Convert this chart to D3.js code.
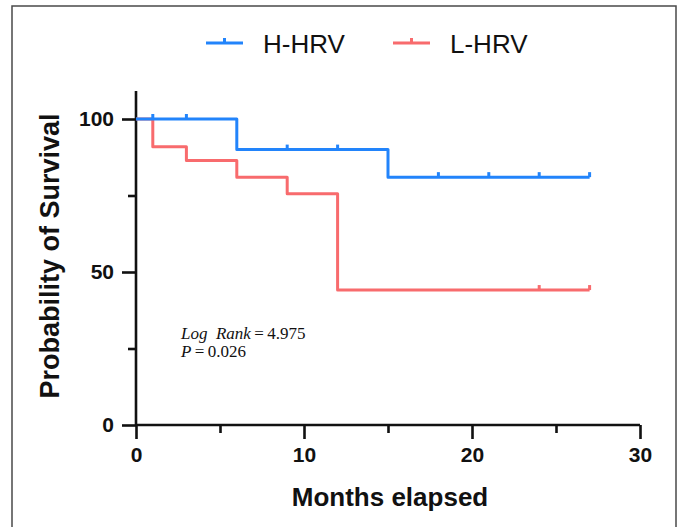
<!DOCTYPE html>
<html>
<head>
<meta charset="utf-8">
<script src="https://cdn.jsdelivr.net/npm/d3@7"></script>
<style>
  body { margin: 0; background: #fff; }
  svg { display: block; }
</style>
</head>
<body>
<div id="canvas"></div>
<script>
"use strict"

/* Data: Kaplan-Meier steps */
let groups = ["H-HRV", "L-HRV"];
let hTimes = [0, 6, 15, 27];
let hSurv = [100, 90, 81, 81];
let hCensor = [1, 3, 9, 12, 18, 21, 24, 27];
let lTimes = [0, 1, 3, 6, 9, 12, 27];
let lSurv = [100, 90.9, 86.4, 81, 75.6, 44.1, 44.1];
let lCensor = [24, 27];
let xMajor = [0, 10, 20, 30];
let xMinor = [5, 15, 25];
let yMajor = [0, 50, 100];
let yMinor = [25, 75];

/* Drawing config */
let svgWidth = 680;
let svgHeight = 527;
let colors = { "H-HRV": "#2284fb", "L-HRV": "#f86b6d" };

let svg = d3.select("#canvas")
    .append("svg")
    .attr("width", svgWidth)
    .attr("height", svgHeight);

// outer frame (no bottom edge visible)
svg.append("path")
    .attr("d", "M12,527 L12,6 L676,6 L676,527")
    .attr("fill", "none")
    .attr("stroke", "#4a4a4a")
    .attr("stroke-width", 1.5);

let xScale = d3.scaleLinear()
    .domain([0, 30])
    .range([136, 640]);

let yScale = d3.scaleLinear()
    .domain([0, 100])
    .range([425, 119]);

/**** axes ****/
let xAxis = svg.append("g")
    .attr("transform", "translate(0," + yScale(0) + ")")
    .call(d3.axisBottom(xScale).tickValues(xMajor).tickSize(14).tickPadding(8).tickFormat(d3.format("d")));
svg.append("g")
    .attr("transform", "translate(0," + yScale(0) + ")")
    .call(d3.axisBottom(xScale).tickValues(xMinor).tickSize(8).tickFormat(""))
    .select(".domain").remove();

let yAxis = svg.append("g")
    .attr("transform", "translate(" + xScale(0) + ",0)")
    .call(d3.axisLeft(yScale).tickValues(yMajor).tickSize(14).tickPadding(8).tickFormat(d3.format("d")));
svg.append("g")
    .attr("transform", "translate(" + xScale(0) + ",0)")
    .call(d3.axisLeft(yScale).tickValues(yMinor).tickSize(8).tickFormat(""))
    .select(".domain").remove();

svg.selectAll(".domain")
    .attr("stroke", "#111")
    .attr("stroke-width", 2.6);
svg.selectAll(".tick line")
    .attr("stroke", "#111")
    .attr("stroke-width", 2.6);
svg.selectAll(".tick text")
    .attr("fill", "#111")
    .style("font-family", "Liberation Sans, Arial, sans-serif")
    .style("font-weight", "bold")
    .style("font-size", "21px");

// axis domain should not have end caps
xAxis.select(".domain").attr("d", "M" + xScale(0) + ",0H" + xScale(30));
yAxis.select(".domain").attr("d", "M0," + yScale(0) + "V" + (yScale(100) - 28));

/**** axis titles ****/
svg.append("text")
    .attr("x", 390)
    .attr("y", 506)
    .attr("text-anchor", "middle")
    .style("font-family", "Liberation Sans, Arial, sans-serif")
    .style("font-weight", "bold")
    .style("font-size", "26px")
    .attr("fill", "#111")
    .text("Months elapsed");

svg.append("text")
    .attr("transform", "translate(59,256) rotate(-90)")
    .attr("text-anchor", "middle")
    .style("font-family", "Liberation Sans, Arial, sans-serif")
    .style("font-weight", "bold")
    .style("font-size", "27px")
    .attr("fill", "#111")
    .text("Probability of Survival");

/**** survival curves ****/
let stepLine = d3.line()
    .x(d => xScale(d[0]))
    .y(d => yScale(d[1]))
    .curve(d3.curveStepAfter);

let survAt = function(times, surv, t) {
    let s = surv[0];
    times.forEach(function(tt, i) { if (tt <= t) s = surv[i]; });
    return s;
};

let series = [
    { name: "L-HRV", times: lTimes, surv: lSurv, censor: lCensor },
    { name: "H-HRV", times: hTimes, surv: hSurv, censor: hCensor }
];

series.forEach(function(s) {
    svg.append("path")
        .datum(d3.zip(s.times, s.surv))
        .attr("d", stepLine)
        .attr("fill", "none")
        .attr("stroke", colors[s.name])
        .attr("stroke-width", 3)
        .attr("stroke-linejoin", "round");

    svg.selectAll(".censor-" + s.name)
        .data(s.censor)
        .join("line")
        .attr("x1", d => xScale(d))
        .attr("x2", d => xScale(d))
        .attr("y1", d => yScale(survAt(s.times, s.surv, d)))
        .attr("y2", d => yScale(survAt(s.times, s.surv, d)) - 5)
        .attr("stroke", colors[s.name])
        .attr("stroke-width", 3);
});

/**** legend ****/
let legendX = [206, 393];
groups.forEach(function(g, i) {
    let lx = legendX[i];
    svg.append("line")
        .attr("x1", lx).attr("x2", lx + 37)
        .attr("y1", 43).attr("y2", 43)
        .attr("stroke", colors[g])
        .attr("stroke-width", 3);
    svg.append("line")
        .attr("x1", lx + 18.5).attr("x2", lx + 18.5)
        .attr("y1", 43).attr("y2", 38)
        .attr("stroke", colors[g])
        .attr("stroke-width", 3);
    svg.append("text")
        .attr("x", lx + 57)
        .attr("y", 53)
        .style("font-family", "Liberation Sans, Arial, sans-serif")
        .style("font-size", "26px")
        .attr("fill", "#111")
        .text(g);
});

/**** log-rank annotation ****/
let annot = svg.append("g")
    .style("font-family", "Liberation Serif, Times New Roman, serif")
    .style("font-size", "17px")
    .attr("fill", "#111");

let line1 = annot.append("text").attr("x", 181).attr("y", 339);
line1.append("tspan").style("font-style", "italic").text("Log\u00a0\u00a0Rank");
line1.append("tspan").text("\u2009=\u20094.975");

let line2 = annot.append("text").attr("x", 181).attr("y", 357);
line2.append("tspan").style("font-style", "italic").text("P");
line2.append("tspan").text("\u2009=\u20090.026");
</script>
</body>
</html>
